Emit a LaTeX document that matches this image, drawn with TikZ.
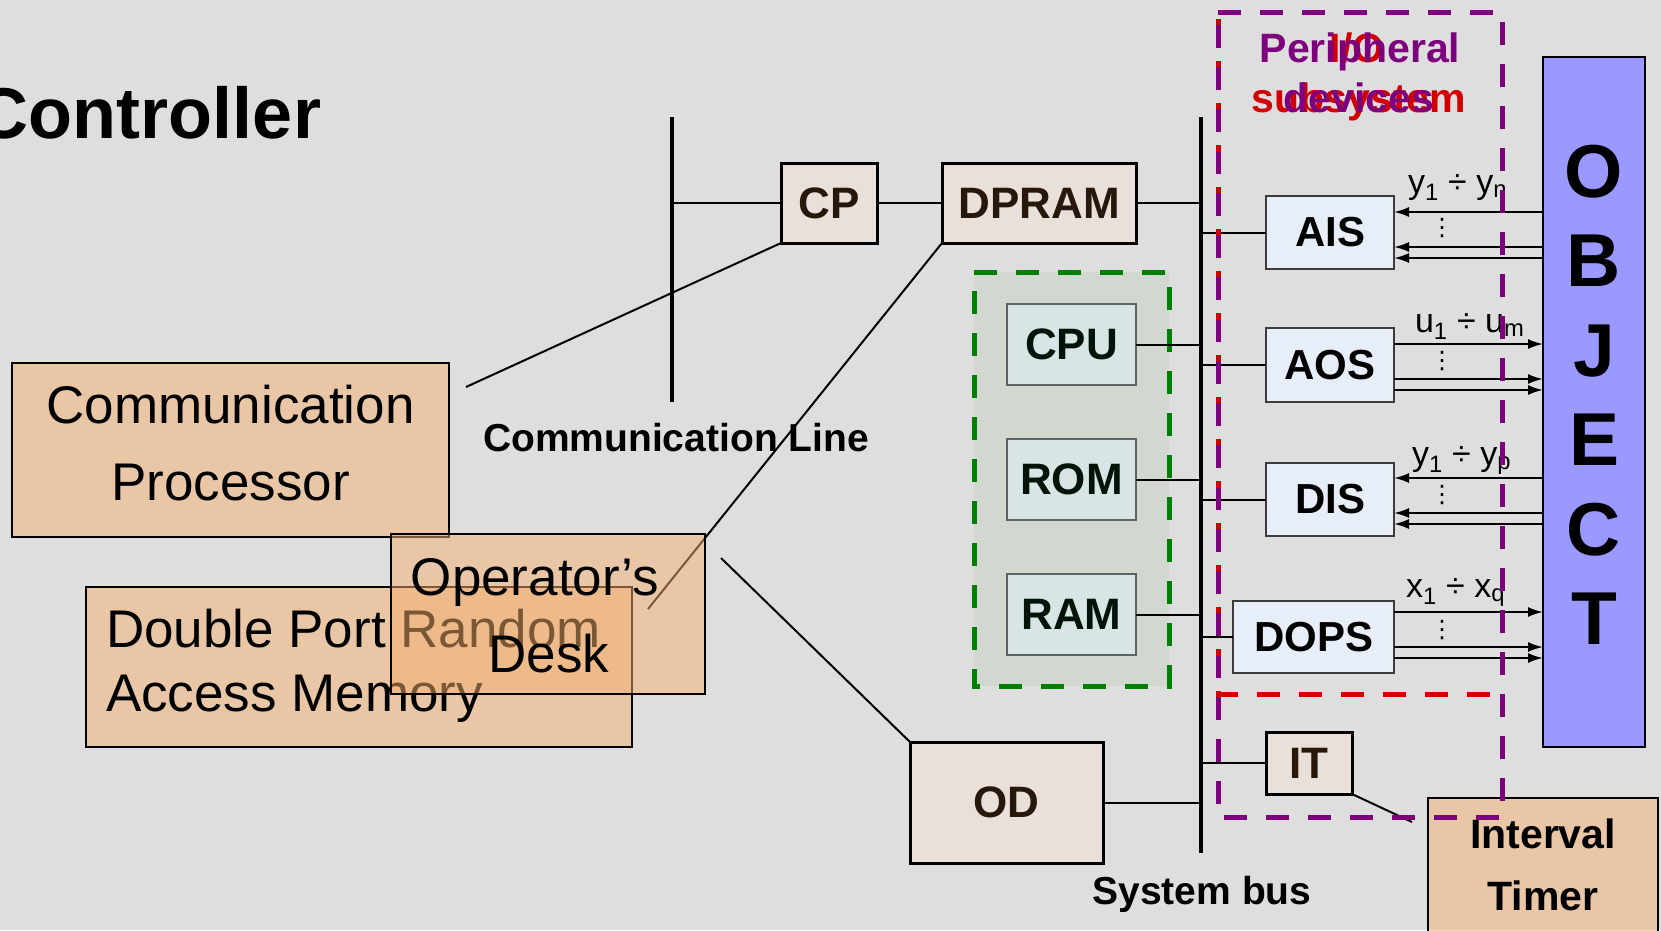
\documentclass[tikz,border=0pt]{standalone}
\usepackage{fontspec}
\setmainfont{Liberation Sans}
\newfontfamily\dejavu{DejaVu Sans}
\usetikzlibrary{arrows.meta}
\definecolor{bg}{RGB}{222,222,222}
\definecolor{peach}{RGB}{245,175,110}
\definecolor{ctrlfill}{RGB}{234,224,218}
\definecolor{ctrltext}{RGB}{38,24,10}
\definecolor{iofill}{RGB}{232,238,248}
\definecolor{iodraw}{RGB}{60,60,60}
\definecolor{memfill}{RGB}{217,229,228}
\definecolor{memdraw}{RGB}{90,100,100}
\definecolor{memtext}{RGB}{0,20,10}
\definecolor{grpfill}{RGB}{210,216,208}
\definecolor{grpgreen}{RGB}{0,128,0}
\definecolor{perpurple}{RGB}{125,0,125}
\definecolor{iored}{RGB}{210,0,0}
\definecolor{objfill}{RGB}{153,153,255}
\newcommand\myfs[1]{\fontsize{#1pt}{#1pt}\selectfont}
\begin{document}
\begin{tikzpicture}[x=1pt,y=-1pt,
  every node/.style={inner sep=0pt,outer sep=0pt},
  ctrlbox/.style={draw=black,line width=3pt,fill=ctrlfill,text=ctrltext,font=\myfs{44}\bfseries},
  iobox/.style={draw=iodraw,line width=2pt,fill=iofill,text=black,font=\myfs{42}\bfseries},
  membox/.style={draw=memdraw,line width=2pt,fill=memfill,text=memtext,font=\myfs{44}\bfseries},
  peachbox/.style={draw=black,line width=2pt,fill=peach,fill opacity=0.5,draw opacity=1},
  bigtext/.style={font=\myfs{53},text=black,anchor=base},
  boldlabel/.style={font=\myfs{39}\bfseries,text=black,anchor=base},
  wire/.style={line width=2pt,draw=black},
  busline/.style={line width=3.5pt,draw=black},
  sig/.style={line width=2pt,-{Latex[length=15pt,width=10pt]}},
  siglabel/.style={font=\myfs{34},anchor=base west},
  vdot/.style={font=\dejavu\myfs{24}},
  dashbox/.style={line width=5pt,dash pattern=on 23pt off 19pt},
  iotitle/.style={font=\myfs{41}\bfseries,anchor=base}
]
\clip (0,0) rectangle (1661,930);
\fill[bg] (0,0) rectangle (1661,930);

% title
\node[font=\myfs{72}\bfseries,anchor=base east] (title) at (321,138) {Controller};

% memory group
\draw[fill=grpfill,draw=grpgreen,dashbox] (974,272) -- (1169,272) -- (1169,686) -- (974,686) -- cycle;
\node[membox,minimum width=129pt,minimum height=81pt] (cpu) at (1071.5,344.5) {CPU};
\node[membox,minimum width=129pt,minimum height=81pt] (rom) at (1071.5,479.5) {ROM};
\node[membox,minimum width=129pt,minimum height=81pt] (ram) at (1071.5,614.5) {RAM};

% control boxes
\node[ctrlbox,minimum width=96pt,minimum height=80pt] (cp) at (829,203) {CP};
\node[ctrlbox,minimum width=194pt,minimum height=80pt] (dpram) at (1039,203) {DPRAM};
\node[ctrlbox,minimum width=193pt,minimum height=121pt] (od) at (1006.5,802.5) {OD};
\node[ctrlbox,minimum width=86pt,minimum height=62pt] (it) at (1309,763) {IT};

% I/O boxes
\node[iobox,minimum width=128pt,minimum height=73pt] (ais) at (1330,232.5) {AIS};
\node[iobox,minimum width=128pt,minimum height=74pt] (aos) at (1330,365) {AOS};
\node[iobox,minimum width=128pt,minimum height=73pt] (dis) at (1330,499.5) {DIS};
\node[iobox,minimum width=161pt,minimum height=72pt] (dops) at (1313.5,637) {DOPS};

% object
\node[draw=black,line width=2.5pt,fill=objfill,minimum width=102pt,minimum height=690pt] (obj) at (1594,402) {};
\node[font=\fontsize{75pt}{89.5pt}\selectfont\bfseries,align=center,anchor=north] (objtxt) at (1594,145) {O\\B\\J\\E\\C\\T};

% buses
\coordinate (clTop) at (672,117);
\coordinate (clBot) at (672,402);
\coordinate (busTop) at (1201,117);
\coordinate (busBot) at (1201,853);
\draw[busline] (clTop) -- (clBot);
\draw[busline] (busTop) -- (busBot);

% free ends
\coordinate (cpEnd) at (466,387);
\coordinate (dpEnd) at (648,609);
\coordinate (odEnd) at (721,558);
\coordinate (itEnd) at (1412,822);

% connectors
\draw[wire] (cp.west) -- (cp.west -| clTop);
\draw[wire] (cp.east) -- (dpram.west);
\draw[wire] (dpram.east) -- (dpram.east -| busTop);
\draw[wire] (cp.south west) -- (cpEnd);
\draw[wire] (dpram.south west) -- (dpEnd);
\draw[wire] (cpu.east) -- (cpu.east -| busTop);
\draw[wire] (rom.east) -- (rom.east -| busTop);
\draw[wire] (ram.east) -- (ram.east -| busTop);
\draw[wire] (od.east) -- (od.east -| busTop);
\draw[wire] (od.north west) -- (odEnd);
\draw[wire] (ais.west) -- (ais.west -| busTop);
\draw[wire] (aos.west) -- (aos.west -| busTop);
\draw[wire] (dis.west) -- (dis.west -| busTop);
\draw[wire] (dops.west) -- (dops.west -| busTop);
\draw[wire] (it.west) -- (it.west -| busTop);
\draw[wire] (it.south east) -- (itEnd);

% signal arrows
\foreach \yy in {212,247,258} {\coordinate (r) at (0,\yy); \draw[sig] (obj.west |- r) -- (ais.east |- r);}
\foreach \yy in {344,379,390} {\coordinate (r) at (0,\yy); \draw[sig] (aos.east |- r) -- (obj.west |- r);}
\foreach \yy in {478,513,524} {\coordinate (r) at (0,\yy); \draw[sig] (obj.west |- r) -- (dis.east |- r);}
\foreach \yy in {612,647,658} {\coordinate (r) at (0,\yy); \draw[sig] (dops.east |- r) -- (obj.west |- r);}

\node[siglabel] (lais) at (1408,193) {y\textsubscript{1} ÷ y\textsubscript{n}};
\node[siglabel] (laos) at (1415,332) {u\textsubscript{1} ÷ u\textsubscript{m}};
\node[siglabel] (ldis) at (1412,465) {y\textsubscript{1} ÷ y\textsubscript{p}};
\node[siglabel] (ldops) at (1406,597) {x\textsubscript{1} ÷ x\textsubscript{q}};
\node[vdot] (dais) at (1442,228) {⋮};
\node[vdot] (daos) at (1442,361) {⋮};
\node[vdot] (ddis) at (1442,495) {⋮};
\node[vdot] (ddops) at (1442,630) {⋮};

% labels
\node[boldlabel] (cllabel) at (676,451) {Communication Line};
\node[boldlabel] (buslabel) at (1202,904) {System bus};

% peach boxes
\node[peachbox,minimum width=437pt,minimum height=174pt] (commproc) at (230.5,450) {};
\node[bigtext] (cpt1) at (230.5,423) {Communication};
\node[bigtext] (cpt2) at (230.5,500) {Processor};
\node[peachbox,minimum width=546pt,minimum height=160pt] (dpmem) at (359,667) {};
\node[bigtext,anchor=base west] (dmt1) at (106,647) {Double Port Random};
\node[bigtext,anchor=base west] (dmt2) at (106,711) {Access Memory};
\node[peachbox,minimum width=314pt,minimum height=160pt] (opdesk) at (548,614) {};
\node[bigtext] (odt1) at (535,595) {Operator’s};
\node[bigtext] (odt2) at (549,672) {Desk};
\node[peachbox,minimum width=230pt,minimum height=147pt] (itimer) at (1543,871.5) {};
\node[font=\myfs{41}\bfseries,anchor=base] (itt1) at (1543,848) {Interval};
\node[font=\myfs{41}\bfseries,anchor=base] (itt2) at (1543,910) {Timer};

% I/O subsystem and peripheral devices frames
\draw[dashbox,draw=iored] (1218,12) -- (1502,12) -- (1502,694);
\draw[dashbox,draw=iored,dash phase=30pt] (1502,694) -- (1218,694) -- (1218,12);
\draw[dashbox,draw=perpurple] (1218,12) -- (1502,12) -- (1502,817) -- (1218,817) -- cycle;
\node[iotitle,text=iored] (iot1) at (1357,62) {I/O};
\node[iotitle,text=iored] (iot2) at (1359,112) {subsystem};
\node[iotitle,text=perpurple] (pdt1) at (1360,62) {Peripheral};
\node[iotitle,text=perpurple] (pdt2) at (1359,112) {devices};
\end{tikzpicture}
\end{document}
